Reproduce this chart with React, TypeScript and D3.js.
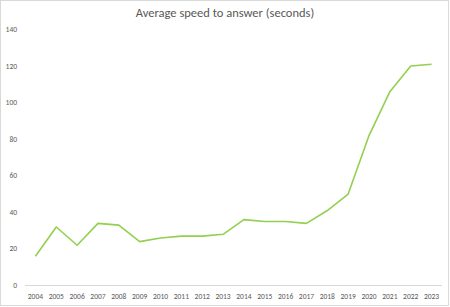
import React from "react";
import * as d3 from "d3";

const years = ["2004","2005","2006","2007","2008","2009","2010","2011","2012","2013","2014","2015","2016","2017","2018","2019","2020","2021","2022","2023"];
const values = [16, 32, 22, 34, 33, 24, 26, 27, 27, 28, 36, 35, 35, 34, 41, 50, 82, 106, 120, 121];
const yTicks = [0, 20, 40, 60, 80, 100, 120, 140];
const title = "Average speed to answer (seconds)";

export default function App() {
  const W = 450, H = 307;
  const x = d3.scaleBand<string>().domain(years).range([25, 442]);
  const y = d3.scaleLinear().domain([0, 140]).range([285.5, 29.5]);
  const line = d3.line<number>()
    .x((_, i) => (x(years[i]) as number) + x.bandwidth() / 2)
    .y((d) => y(d));
  const font = "Carlito, Calibri, 'Liberation Sans', Arial, sans-serif";
  return (
    <svg width={W} height={H} style={{ position: "absolute", left: 0, top: 0 }} fontFamily={font}>
      <rect x={0} y={0} width={W} height={H} fill="#fff" />
      <rect x={0.5} y={0.5} width={448} height={305} fill="none" stroke="#d9d9d9" />
      <text x={225} y={17} textAnchor="middle" fontSize={12.5} fill="#595959">{title}</text>
      {yTicks.map((t) => (
        <text key={t} x={17} y={y(t) + 2.5} textAnchor="end" fontSize={7.5} fill="#595959">{t}</text>
      ))}
      <line x1={25} x2={442} y1={285.5} y2={285.5} stroke="#d9d9d9" strokeWidth={1} />
      {years.map((yr) => (
        <text key={yr} x={(x(yr) as number) + x.bandwidth() / 2} y={299} textAnchor="middle" fontSize={7.5} fill="#595959">{yr}</text>
      ))}
      <path d={line(values) || ""} fill="none" stroke="#92d050" strokeWidth={1.6} strokeLinejoin="round" />
    </svg>
  );
}
